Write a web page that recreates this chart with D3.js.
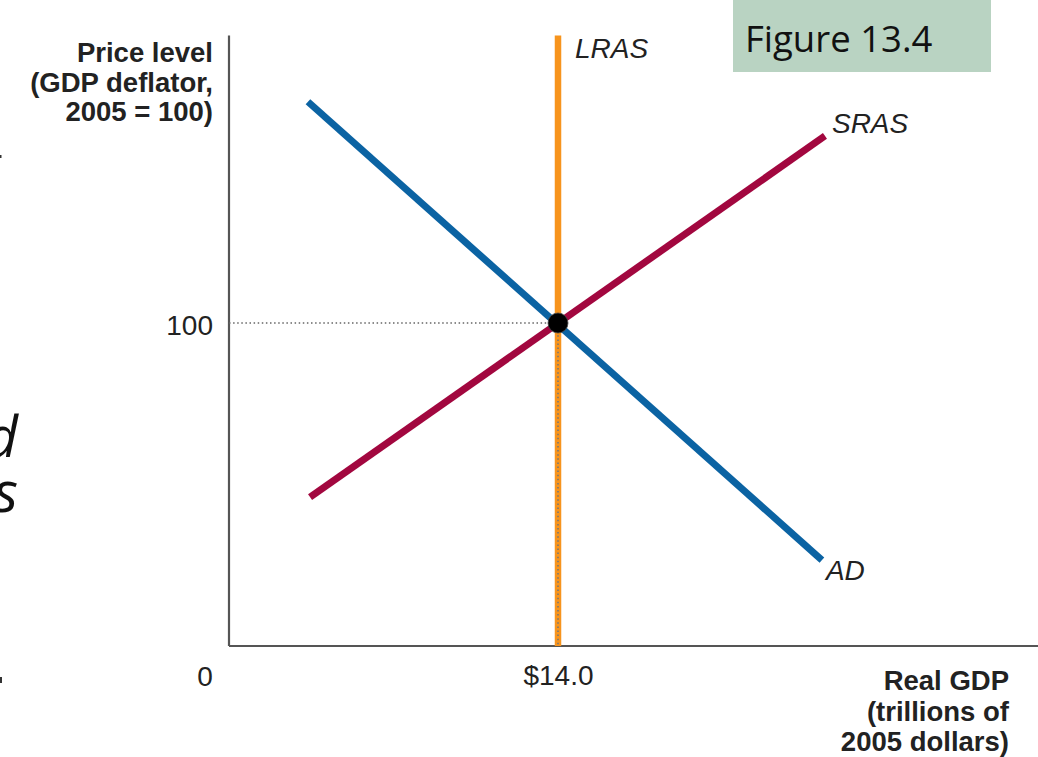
<!DOCTYPE html>
<html>
<head>
<meta charset="utf-8">
<script src="https://cdn.jsdelivr.net/npm/d3@7"></script>
<style>
  html, body { margin: 0; padding: 0; background: #fff; }
  svg { display: block; }
</style>
</head>
<body>
<svg id="chart" width="1038" height="757"></svg>
<script>
// Curves in (real GDP, price level) units
const adCurve   = [[3.36, 168.5], [25.23, 26.6]];
const srasCurve = [[3.45, 46.1], [25.36, 157.9]];
const lrasCurve = [[14.0, 0], [14.0, 189]];
const equilibrium = [14.0, 100];

// Tick labels
const xTicks = [14.0];
const xTickLabels = ["$14.0"];
const yTicks = [100];
const yTickLabels = ["100"];

const curveNames = ["AD", "SRAS", "LRAS"];

const svg = d3.select("#chart");
const W = 1038, H = 757;

svg.append("rect").attr("width", W).attr("height", H).attr("fill", "#fff");

const x = d3.scaleLinear().domain([0, 14]).range([229, 558]);
const y = d3.scaleLinear().domain([0, 100]).range([646, 323]);

const line = d3.line().x(d => x(d[0])).y(d => y(d[1]));

// Slide fragments at the left edge
const slideFont = "'Open Sans', 'Noto Sans', sans-serif";
svg.append("text").attr("x", 18).attr("y", 457).attr("text-anchor", "end")
  .attr("font-family", slideFont).attr("font-style", "italic").attr("font-size", 57)
  .attr("fill", "#111").text("d");
svg.append("text").attr("x", 18).attr("y", 512).attr("text-anchor", "end")
  .attr("font-family", slideFont).attr("font-style", "italic").attr("font-size", 57)
  .attr("fill", "#111").text("s");
svg.append("rect").attr("x", 0).attr("y", 155).attr("width", 1.5).attr("height", 3).attr("fill", "#333");
svg.append("rect").attr("x", 0).attr("y", 677).attr("width", 2).attr("height", 6).attr("fill", "#333");

// Figure tag
svg.append("rect").attr("x", 733).attr("y", 0).attr("width", 258).attr("height", 72)
  .attr("fill", "#b9d3c2");
svg.append("text").attr("x", 745).attr("y", 52)
  .attr("font-family", slideFont).attr("font-size", 36.5).attr("fill", "#111")
  .text("Figure 13.4");

const chartFont = "'Liberation Sans', Arial, Helvetica, sans-serif";

// Axes
const yAxis = d3.axisLeft(y).tickValues(yTicks).tickSize(0).tickPadding(16)
  .tickFormat((d, i) => yTickLabels[i]);
const xAxis = d3.axisBottom(x).tickValues(xTicks).tickSize(0).tickPadding(19)
  .tickFormat((d, i) => xTickLabels[i]);

const gy = svg.append("g").attr("transform", `translate(${x(0)},0)`).call(yAxis);
gy.select(".domain").attr("d", `M0,${y(0)}V${y(189)}`);
const gx = svg.append("g").attr("transform", `translate(0,${y(0)})`).call(xAxis);
gx.select(".domain").attr("d", `M${x(0)},0H${W}`);

[gx, gy].forEach(g => {
  g.select(".domain").attr("stroke", "#555").attr("stroke-width", 2.2).attr("fill", "none");
  g.selectAll(".tick text").attr("font-family", chartFont).attr("font-size", 28)
    .attr("fill", "#222");
});
gy.selectAll(".tick text").attr("dy", "0.4em");
gx.selectAll(".tick text").attr("dy", "0.72em");

// Origin label
svg.append("text").attr("x", x(0) - 24).attr("y", 686).attr("text-anchor", "middle")
  .attr("font-family", chartFont).attr("font-size", 28).attr("fill", "#222").text("0");

// Axis titles
const yTitle = svg.append("text").attr("text-anchor", "end")
  .attr("font-family", chartFont).attr("font-weight", "bold").attr("font-size", 27.5)
  .attr("fill", "#222");
["Price level", "(GDP deflator,", "2005 = 100)"].forEach((t, i) =>
  yTitle.append("tspan").attr("x", 213).attr("y", 62 + i * 29.5).text(t));

const xTitle = svg.append("text").attr("text-anchor", "end")
  .attr("font-family", chartFont).attr("font-weight", "bold").attr("font-size", 27.5)
  .attr("fill", "#222");
["Real GDP", "(trillions of", "2005 dollars)"].forEach((t, i) =>
  xTitle.append("tspan").attr("x", 1009).attr("y", 690 + i * 30.5).text(t));

// Curves
svg.append("path").datum(adCurve).attr("d", line)
  .attr("stroke", "#0b63a3").attr("stroke-width", 7).attr("fill", "none");
svg.append("path").datum(srasCurve).attr("d", line)
  .attr("stroke", "#a2073f").attr("stroke-width", 7).attr("fill", "none");
svg.append("path").datum(lrasCurve).attr("d", line)
  .attr("stroke", "#f7941d").attr("stroke-width", 6.5).attr("fill", "none");

// Guide lines to the equilibrium
const guide = d3.line().x(d => x(d[0])).y(d => y(d[1]));
svg.append("path").datum([[0, equilibrium[1]], equilibrium]).attr("d", guide)
  .attr("stroke", "#666").attr("stroke-width", 1.6).attr("stroke-dasharray", "1.5,2.6").attr("fill", "none");
svg.append("path").datum([equilibrium, [equilibrium[0], 0]]).attr("d", guide)
  .attr("stroke", "#777").attr("stroke-width", 1.6).attr("stroke-dasharray", "1.5,2.6").attr("fill", "none");

// Equilibrium point
svg.append("circle").attr("cx", x(equilibrium[0])).attr("cy", y(equilibrium[1])).attr("r", 10)
  .attr("fill", "#000").attr("stroke", "#444").attr("stroke-width", 0.8);

// Curve labels
const labelPos = {
  "AD":   [adCurve[1][0], adCurve[1][1], 4, 20],
  "SRAS": [srasCurve[1][0], srasCurve[1][1], 7, -3],
  "LRAS": [lrasCurve[1][0], lrasCurve[1][1], 17, 22]
};
curveNames.forEach(n => {
  const p = labelPos[n];
  svg.append("text").attr("x", x(p[0]) + p[2]).attr("y", y(p[1]) + p[3])
    .attr("font-family", chartFont).attr("font-style", "italic").attr("font-size", 28)
    .attr("fill", "#222").text(n);
});
</script>
</body>
</html>
